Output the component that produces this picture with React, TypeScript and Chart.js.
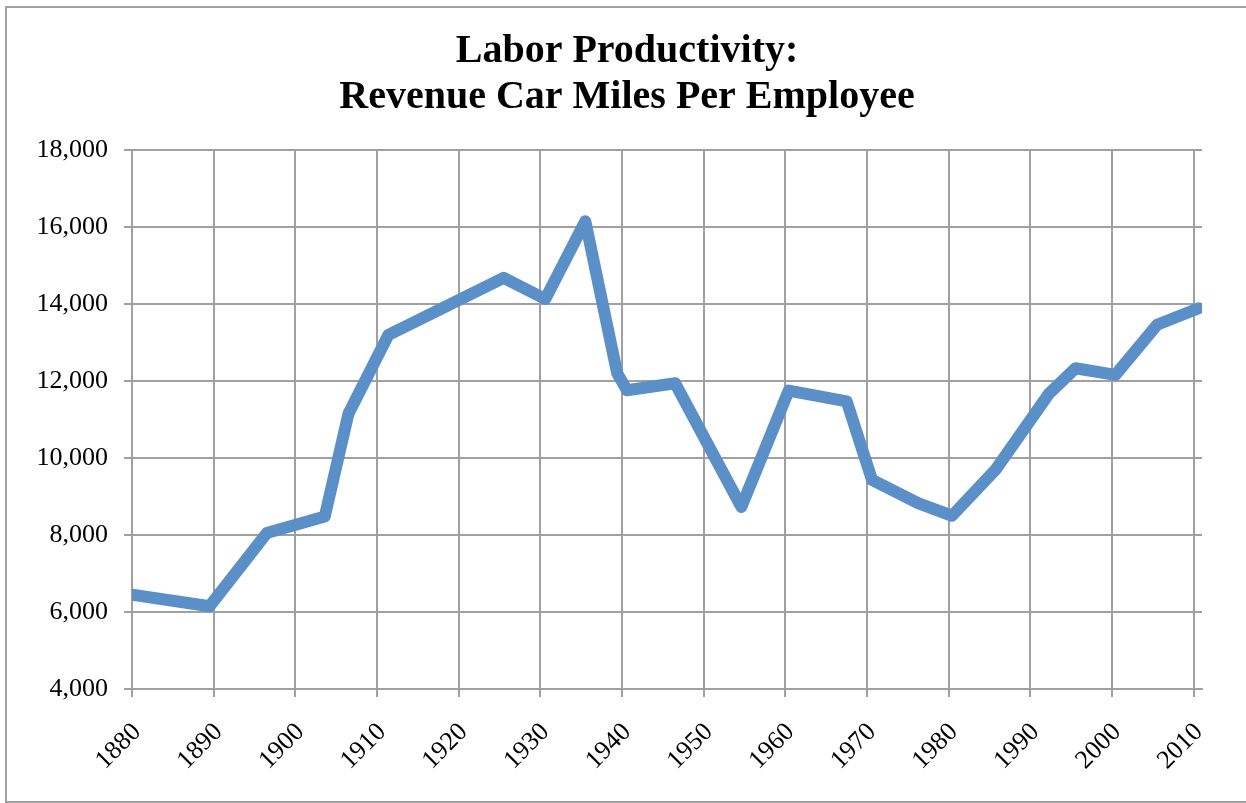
import React, { useEffect, useRef } from "react";
import { Chart, registerables } from "chart.js";

Chart.register(...registerables);

const titleLines = ["Labor Productivity:", "Revenue Car Miles Per Employee"];
const years = [1880, 1889.5, 1896.5, 1903.6, 1906.5, 1911.4, 1925.5, 1930.6, 1935.5, 1939.4, 1940.6, 1946.5, 1954.6, 1960.4, 1967.5, 1970.6, 1976.3, 1980.4, 1985.7, 1992.3, 1995.5, 2000.4, 2005.5, 2010.6];
const milesPerEmployee = [6450, 6150, 8050, 8480, 11150, 13200, 14680, 14130, 16150, 12200, 11760, 11940, 8730, 11750, 11470, 9430, 8820, 8500, 9690, 11680, 12330, 12160, 13460, 13890];
const xTickYears = [1880, 1890, 1900, 1910, 1920, 1930, 1940, 1950, 1960, 1970, 1980, 1990, 2000, 2010];
const xMin = 1880;
const xMax = 2011;
const yMin = 4000;
const yMax = 18000;
const yStep = 2000;

const FONT = "'Liberation Serif', 'Times New Roman', serif";
const GRID = "#a0a0a0";

const titlePlugin = {
  id: "centeredTitle",
  afterDraw(chart: any) {
    const ctx = chart.ctx;
    ctx.save();
    ctx.fillStyle = "#000";
    ctx.font = `bold 40px ${FONT}`;
    ctx.textAlign = "center";
    ctx.textBaseline = "middle";
    titleLines.forEach((line, i) => {
      ctx.fillText(line, 627, 52 + i * 46);
    });
    ctx.restore();
  },
};

export default function App() {
  const ref = useRef<HTMLCanvasElement | null>(null);
  useEffect(() => {
    if (!ref.current) return;
    const chart = new Chart(ref.current, {
      type: "line",
      data: {
        datasets: [
          {
            data: years.map((y, i) => ({ x: y, y: milesPerEmployee[i] })),
            borderColor: "#5b8fc7",
            backgroundColor: "#5b8fc7",
            borderWidth: 12,
            pointRadius: 0,
            borderJoinStyle: "round",
            borderCapStyle: "round",
            tension: 0,
            fill: false,
          },
        ],
      },
      plugins: [titlePlugin],
      options: {
        responsive: false,
        animation: false,
        layout: { padding: { left: 0, right: 44, top: 150, bottom: 0 } },
        plugins: {
          legend: { display: false },
          tooltip: { enabled: false },
          title: { display: false },
        },
        scales: {
          x: {
            type: "linear",
            min: xMin,
            max: xMax,
            afterBuildTicks: (scale: any) => {
              scale.ticks = xTickYears.map((v) => ({ value: v }));
            },
            afterFit: (scale: any) => {
              scale.height = 114;
            },
            ticks: {
              minRotation: 45,
              maxRotation: 45,
              padding: 20,
              labelOffset: 5,
              color: "#000",
              font: { family: FONT, size: 26 },
              callback: (v: any) => String(v),
            },
            grid: { color: GRID, lineWidth: 2, tickLength: 8, drawTicks: true },
            border: { color: GRID, width: 2 },
          },
          y: {
            min: yMin,
            max: yMax,
            afterFit: (scale: any) => {
              scale.width = 132;
            },
            ticks: {
              stepSize: yStep,
              padding: 16,
              color: "#000",
              font: { family: FONT, size: 26 },
              callback: (v: any) => Number(v).toLocaleString("en-US"),
            },
            grid: { color: GRID, lineWidth: 2, tickLength: 8, drawTicks: true },
            border: { color: GRID, width: 2 },
          },
        },
      },
    });
    return () => chart.destroy();
  }, []);

  return (
    <div style={{ position: "absolute", left: 0, top: 0, width: 1246, height: 803, overflow: "hidden", background: "#fff" }}>
      <div
        style={{
          position: "absolute",
          left: 5,
          top: 6,
          width: 1300,
          height: 797,
          boxSizing: "border-box",
          border: "2px solid #a0a0a0",
        }}
      />
      <canvas ref={ref} width={1246} height={803} style={{ position: "absolute", left: 0, top: 0, width: 1246, height: 803 }} />
    </div>
  );
}
